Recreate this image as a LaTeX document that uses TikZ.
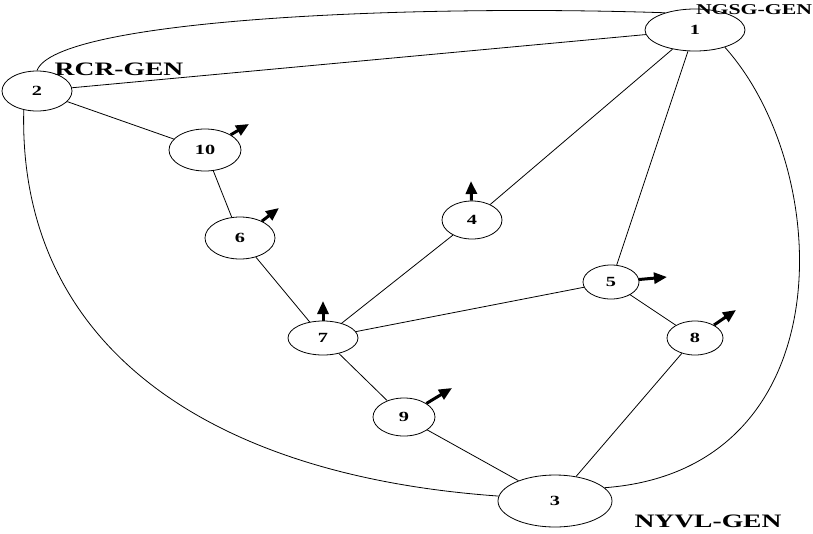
\documentclass[tikz,border=0pt]{standalone}
\usepackage{fontspec}
\usepackage{graphicx}
\setmainfont{Liberation Serif}
\usetikzlibrary{shapes.geometric,arrows.meta}
\newcommand{\sx}[1]{\scalebox{1.45}[1]{#1}}
\begin{document}
\begin{tikzpicture}[x=1pt,y=-1pt,
  bus/.style={draw,ellipse,inner sep=0pt,line width=0.8pt,font=\bfseries\fontsize{14}{16}\selectfont},
  edge/.style={line width=0.8pt},
  gen/.style={line width=3pt,-{Triangle[length=13pt,width=11pt]}},
  lbl/.style={font=\bfseries\fontsize{19}{21}\selectfont,inner sep=0pt}]
\useasboundingbox (0,0) rectangle (813,533);
\node[bus,minimum width=100pt,minimum height=42pt] (n1) at (695,30) {\sx{1}};
\node[bus,minimum width=70pt,minimum height=40pt] (n2) at (37,91) {\sx{2}};
\node[bus,minimum width=114pt,minimum height=52pt] (n3) at (555,501) {\sx{3}};
\node[bus,minimum width=60pt,minimum height=38pt] (n4) at (472,220) {\sx{4}};
\node[bus,minimum width=56pt,minimum height=34pt] (n5) at (611,282) {\sx{5}};
\node[bus,minimum width=70pt,minimum height=42pt] (n6) at (240,238) {\sx{6}};
\node[bus,minimum width=70pt,minimum height=34pt] (n7) at (323,338) {\sx{7}};
\node[bus,minimum width=56pt,minimum height=34pt] (n8) at (695,338) {\sx{8}};
\node[bus,minimum width=62pt,minimum height=38pt] (n9) at (404,417) {\sx{9}};
\node[bus,minimum width=72pt,minimum height=42pt] (n10) at (205,150) {\sx{10}};
\node[lbl,font=\bfseries\fontsize{15}{17}\selectfont] (l1) at (754,10) {\sx{NGSG-GEN}};
\node[lbl] (l2) at (119,69) {\sx{RCR-GEN}};
\node[lbl] (l3) at (708,521) {\sx{NYVL-GEN}};
% edges
\draw[edge] (n2.north) .. controls (55,20) and (400,4) .. (n1.150);
\draw[edge] (n2) -- (n1);
\draw[edge] (n2) -- (n10);
\draw[edge] (n10) -- (n6);
\draw[edge] (n6) -- (n7);
\draw[edge] (n7) -- (n4);
\draw[edge] (n7) -- (n5);
\draw[edge] (n7) -- (n9);
\draw[edge] (n9) -- (n3);
\draw[edge] (n1) -- (n4);
\draw[edge] (n1) -- (n5);
\draw[edge] (n5) -- (n8);
\draw[edge] (n8) -- (n3);
\draw[edge] (n1.-30) .. controls (835,170) and (845,470) .. (n3.15);
\draw[edge] (n2.-125) .. controls (18,340) and (200,475) .. (n3.175);
% generators
\coordinate (g10) at (249,124);
\coordinate (g6) at (279,208);
\coordinate (g4) at (471,181);
\coordinate (g7) at (323,301);
\coordinate (g5) at (667,277);
\coordinate (g8) at (736,310);
\coordinate (g9) at (452,388);
\draw[gen] (n10) -- (g10);
\draw[gen] (n6) -- (g6);
\draw[gen] (n4) -- (g4);
\draw[gen] (n7) -- (g7);
\draw[gen] (n5) -- (g5);
\draw[gen] (n8) -- (g8);
\draw[gen] (n9) -- (g9);
\end{tikzpicture}
\end{document}
